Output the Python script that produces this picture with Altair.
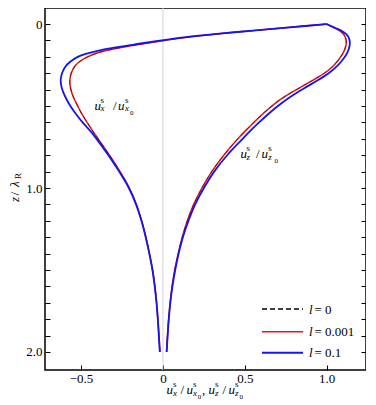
import altair as alt
import pandas as pd

SERIF = "Liberation Serif, Times New Roman, Times, serif"

# depth z / lambda_R (shared grid)
z = [0.00, 0.02, 0.04, 0.06, 0.08, 0.10, 0.12, 0.14, 0.16, 0.18, 0.20, 0.23, 0.26, 0.30, 0.34,
     0.38, 0.42, 0.46, 0.50, 0.55, 0.60, 0.65, 0.70, 0.80, 0.90, 1.00, 1.10, 1.20, 1.30, 1.40,
     1.50, 1.60, 1.70, 1.80, 1.90, 2.00]

# l = 0 (black dashed)
ux_l0 = [1.000, 0.775, 0.550, 0.330, 0.150, 0.010, -0.120, -0.240, -0.340, -0.410, -0.460, -0.510,
         -0.540, -0.560, -0.568, -0.566, -0.556, -0.540, -0.520, -0.494, -0.463, -0.430, -0.395,
         -0.326, -0.262, -0.205, -0.162, -0.130, -0.104, -0.082, -0.063, -0.049, -0.039, -0.031,
         -0.024, -0.018]
uz_l0 = [1.000, 1.040, 1.077, 1.102, 1.114, 1.119, 1.119, 1.115, 1.108, 1.098, 1.085, 1.063,
         1.035, 0.985, 0.920, 0.850, 0.780, 0.718, 0.665, 0.607, 0.555, 0.505, 0.458, 0.372,
         0.298, 0.238, 0.188, 0.149, 0.118, 0.093, 0.072, 0.056, 0.044, 0.035, 0.028, 0.022]
# l = 0.001 (red)
ux_l001 = [1.000, 0.775, 0.550, 0.330, 0.150, 0.010, -0.120, -0.240, -0.340, -0.410, -0.460, -0.510,
           -0.540, -0.560, -0.568, -0.566, -0.556, -0.540, -0.520, -0.494, -0.463, -0.430, -0.395,
           -0.326, -0.262, -0.205, -0.162, -0.130, -0.104, -0.082, -0.063, -0.049, -0.039, -0.031,
           -0.024, -0.018]
uz_l001 = [1.000, 1.040, 1.077, 1.102, 1.114, 1.119, 1.119, 1.115, 1.108, 1.098, 1.085, 1.063,
           1.035, 0.985, 0.920, 0.850, 0.780, 0.718, 0.665, 0.607, 0.555, 0.505, 0.458, 0.372,
           0.298, 0.238, 0.188, 0.149, 0.118, 0.093, 0.072, 0.056, 0.044, 0.035, 0.028, 0.022]
# l = 0.1 (blue)
ux_l01 = [1.000, 0.775, 0.550, 0.330, 0.140, -0.010, -0.145, -0.275, -0.385, -0.465, -0.520, -0.566,
          -0.596, -0.616, -0.624, -0.620, -0.607, -0.588, -0.565, -0.530, -0.490, -0.445, -0.405,
          -0.333, -0.267, -0.208, -0.164, -0.131, -0.105, -0.083, -0.064, -0.050, -0.039, -0.031,
          -0.025, -0.019]
uz_l01 = [1.000, 1.045, 1.088, 1.118, 1.133, 1.140, 1.141, 1.138, 1.132, 1.123, 1.111, 1.088,
          1.060, 1.012, 0.950, 0.882, 0.815, 0.755, 0.702, 0.642, 0.587, 0.535, 0.487, 0.392,
          0.313, 0.250, 0.197, 0.156, 0.122, 0.096, 0.075, 0.058, 0.045, 0.036, 0.029, 0.023]

x_ticks = [-0.5, 0.0, 0.5, 1.0]
y_ticks = [0.0, 0.1, 0.2, 0.3, 0.4, 0.5, 0.6, 0.7, 0.8, 0.9, 1.0, 1.1, 1.2, 1.3, 1.4, 1.5,
           1.6, 1.7, 1.8, 1.9, 2.0]

series = [("l=0", ux_l0, uz_l0), ("l=0.001", ux_l001, uz_l001), ("l=0.1", ux_l01, uz_l01)]
rows = []
for name, ux, uz in series:
    for i, zz in enumerate(z):
        rows.append({"series": name, "comp": "ux", "z": zz, "v": ux[i]})
        rows.append({"series": name, "comp": "uz", "z": zz, "v": uz[i]})
df = pd.DataFrame(rows)

OX, OY = 45, 8  # page position of plot origin
W, H = 321, 362

xscale = alt.Scale(domain=[-0.72, 1.24], nice=False, zero=False)
yscale = alt.Scale(domain=[-0.098, 2.11], nice=False, zero=False, reverse=True)

xaxis = alt.Axis(values=x_ticks, orient="bottom", offset=-5, tickSize=5, tickColor="black",
                 tickWidth=1, domain=False, grid=False, labelFont=SERIF, labelFontSize=13,
                 labelColor="black", labelPadding=2, title=None,
                 labelExpr="datum.value == 0 ? '0' : format(datum.value, '.1f')")
yaxis_left = alt.Axis(values=y_ticks, orient="left", offset=-5, tickSize=5, tickColor="black",
                      tickWidth=1, domain=False, grid=False, labelFont=SERIF, labelFontSize=13,
                      labelColor="black", labelPadding=3, title=None,
                      labelExpr="datum.value == 0 ? '0' : (datum.value == 1 || datum.value == 2) ? format(datum.value, '.1f') : ''")
yaxis_right = alt.Axis(values=y_ticks, orient="right", offset=-5, tickSize=5, tickColor="black",
                       tickWidth=1, domain=False, grid=False, labels=False, title=None)

zero_line = alt.Chart(pd.DataFrame({"v": [0.0]})).mark_rule(color="#d4d4d4", strokeWidth=1).encode(
    x=alt.X("v:Q", scale=xscale, axis=None))


def curve(name, color, width, xax, yax, dash=None, opacity=1.0):
    kw = dict(color=color, strokeWidth=width, interpolate="catmull-rom", clip=True, opacity=opacity)
    if dash:
        kw["strokeDash"] = dash
    return alt.Chart(df[df.series == name]).mark_line(**kw).encode(
        x=alt.X("v:Q", scale=xscale, axis=xax),
        y=alt.Y("z:Q", scale=yscale, axis=yax),
        detail="comp:N",
        order="z:Q",
    )


red = curve("l=0.001", "#f01414", 1.5, xaxis, yaxis_left)
black = curve("l=0", "#000000", 0.7, None, None, [5, 3], 0.6)
blue = curve("l=0.1", "#1414f0", 1.8, None, yaxis_right)

one = pd.DataFrame({"a": [0]})


def txt(s, px, py, size=13, style="normal", align="left", angle=0):
    kw = dict(text=s, font=SERIF, fontSize=size, fontStyle=style, align=align,
              baseline="alphabetic", color="black")
    if angle:
        kw["angle"] = angle
    return alt.Chart(one).mark_text(**kw).encode(x=alt.value(px - OX), y=alt.value(py - OY))


texts = []
# x-axis title: u_x^s / u_{x0}^s, u_z^s / u_{z0}^s
B = 394
texts += [
    txt("u", 166.5, B, 13, "italic"), txt("s", 173, B - 7, 9), txt("x", 173, B + 2, 9, "italic"),
    txt("/", 180.5, B, 13),
    txt("u", 186.5, B, 13, "italic"), txt("s", 193, B - 7, 9), txt("x", 193, B + 2, 9, "italic"),
    txt("0", 197.8, B + 5, 7),
    txt(",", 202, B, 13),
    txt("u", 208.5, B, 13, "italic"), txt("s", 215, B - 7, 9), txt("z", 215, B + 2, 9, "italic"),
    txt("/", 222.5, B, 13),
    txt("u", 228.5, B, 13, "italic"), txt("s", 235, B - 7, 9), txt("z", 235, B + 2, 9, "italic"),
    txt("0", 239.5, B + 5, 7),
]
# y-axis title: z / lambda_R (rotated)
YT = 18.5
texts += [
    txt("z", YT, 202, 13, "italic", angle=270),
    txt("/", YT, 195.5, 13, angle=270),
    txt("λ", YT, 187, 13, "italic", angle=270),
    txt("R", YT + 2.5, 179, 9, angle=270),
]
# in-plot annotations
B1 = 109.5
texts += [
    txt("u", 94.5, B1, 13, "italic"), txt("s", 100.5, B1 - 7, 9), txt("x", 100.5, B1 + 1.5, 9, "italic"),
    txt("/", 113, B1, 13),
    txt("u", 118, B1, 13, "italic"), txt("s", 125, B1 - 7, 9), txt("x", 125, B1 + 1.5, 9, "italic"),
    txt("0", 130, B1 + 5, 7),
]
B2 = 158
texts += [
    txt("u", 240.5, B2, 13, "italic"), txt("s", 246.5, B2 - 7, 9), txt("z", 246.5, B2 + 1.5, 9, "italic"),
    txt("/", 256, B2, 13),
    txt("u", 261.5, B2, 13, "italic"), txt("s", 268.3, B2 - 7, 9), txt("z", 268.3, B2 + 1.5, 9, "italic"),
    txt("0", 274.5, B2 + 4.5, 7),
]

# legend
legend_rows = [("0", 309, "#000000", 1.4, [5, 3]), ("0.001", 331.7, "#f01414", 1.6, None),
               ("0.1", 352.7, "#1414f0", 2.0, None)]
leg = []
for lab, ly, col, wdt, dash in legend_rows:
    kw = dict(color=col, strokeWidth=wdt)
    if dash:
        kw["strokeDash"] = dash
    leg.append(alt.Chart(one).mark_rule(**kw).encode(
        x=alt.value(262 - OX), x2=alt.value(303 - OX), y=alt.value(ly - OY)))
    leg.append(txt("l", 309, ly + 4.5, 13, "italic"))
    leg.append(txt("= " + lab, 314.5, ly + 4.5, 13))

chart = alt.layer(zero_line, red, black, blue, *texts, *leg).resolve_axis(
    x="independent", y="independent").properties(
    width=W, height=H,
    autosize=alt.AutoSizeParams(type="none"),
    padding={"left": 37, "top": 0, "right": 0, "bottom": 30},
    background="white",
).configure_view(stroke="black", strokeWidth=1.5)

chart.save("out.html", embed_options={"renderer": "svg", "actions": False})
